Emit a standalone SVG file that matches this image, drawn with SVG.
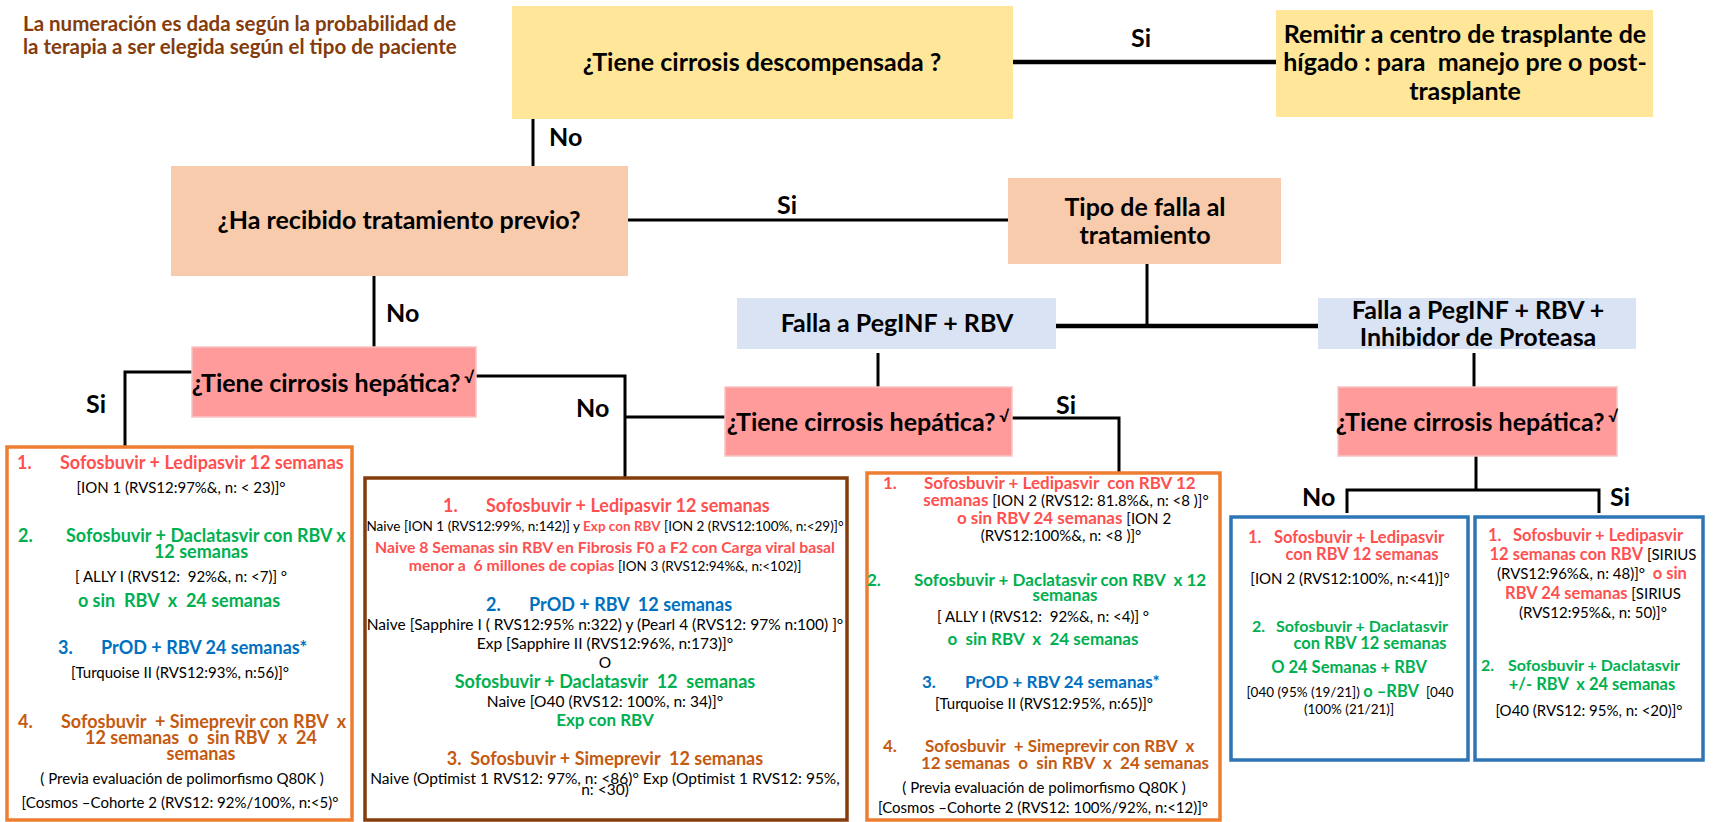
<svg xmlns="http://www.w3.org/2000/svg" width="1723" height="822" viewBox="0 0 1723 822" xml:space="preserve">
<style>
text{font-family:Lato,"Liberation Sans",sans-serif;white-space:pre;}
.n{font-size:25px;font-weight:bold;fill:#000;text-anchor:middle;}
.lb{font-size:25px;font-weight:bold;fill:#000;}
.note{font-size:20.5px;font-weight:bold;fill:#843C0C;}
.yel{fill:#FFE699;}
.pch{fill:#F8CBAD;}
.blu{fill:#DAE3F3;}
.pnk{fill:#FF9B9B;stroke:#F9C4C4;stroke-width:1.5;}
.ob{fill:#fff;stroke:#ED7D31;stroke-width:3.5;}
.bb{fill:#fff;stroke:#843C0C;stroke-width:3.5;}
.lbx{fill:#fff;stroke:#2E75B6;stroke-width:3.5;}
.c{fill:none;stroke:#000;stroke-width:3;}
.ct{fill:none;stroke:#000;stroke-width:4.5;}
.t{font-size:18px;font-weight:bold;}
.t17{font-size:17px;}
.t16{font-size:16.5px;}
.t16s{font-size:16px;}
.tn{font-size:15.8px;}
.m{text-anchor:middle;}
.r{fill:#FF5050;}
.g{fill:#00B050;}
.b{fill:#0070C0;}
.o{fill:#C55A11;}
.k{font-size:15px;font-weight:normal;fill:#000;}
.k2{font-size:15.5px;font-weight:normal;fill:#000;}
.ks{font-size:13.5px;font-weight:normal;fill:#000;}
.sup{font-size:16px;}
</style>
<text class="note" x="23" y="31">La numeración es dada según la probabilidad de</text>
<text class="note" x="23" y="54">la terapia a ser elegida según el tipo de paciente</text>
<g id="connectors">
<path class="ct" d="M1013,62 H1276"/>
<path class="c" d="M533,119 V166"/>
<path class="c" d="M628,220 H1008"/>
<path class="c" d="M374,276 V347"/>
<path class="c" d="M1147,264 V326"/>
<path class="ct" d="M1056,326 H1318"/>
<path class="c" d="M878,353 V387"/>
<path class="c" d="M1474,353 V387"/>
<path class="c" d="M192,372 H125 V447"/>
<path class="c" d="M476,376 H625 V478 M625,417 H725"/>
<path class="c" d="M1012,418 H1119 V473"/>
<path class="c" d="M1476,456 V490 M1347,513 V490 H1599 V513"/>
<text class="lb" x="1131" y="47">Si</text>
<text class="lb" x="549" y="146">No</text>
<text class="lb" x="777" y="214">Si</text>
<text class="lb" x="386" y="322">No</text>
<text class="lb" x="86" y="413">Si</text>
<text class="lb" x="576" y="417">No</text>
<text class="lb" x="1056" y="414">Si</text>
<text class="lb" x="1302" y="506">No</text>
<text class="lb" x="1610" y="506">Si</text>
</g>
<g id="n-descompensada">
<rect class="yel" x="512" y="6" width="501" height="113"/>
<text class="n" x="762" y="71">¿Tiene cirrosis descompensada ?</text>
</g>
<g id="n-remitir">
<rect class="yel" x="1276" y="10" width="377" height="107"/>
<text class="n" x="1465" y="43">Remitir a centro de trasplante de</text>
<text class="n" x="1465" y="71">hígado : para  manejo pre o post-</text>
<text class="n" x="1465" y="100">trasplante</text>
</g>
<g id="n-previo">
<rect class="pch" x="171" y="166" width="457" height="110"/>
<text class="n" x="399" y="229">¿Ha recibido tratamiento previo?</text>
</g>
<g id="n-tipofalla">
<rect class="pch" x="1008" y="178" width="273" height="86"/>
<text class="n" x="1145" y="216">Tipo de falla al</text>
<text class="n" x="1145" y="244">tratamiento</text>
</g>
<g id="n-falla1">
<rect class="blu" x="737" y="298" width="319" height="51"/>
<text class="n" x="897" y="332">Falla a PegINF + RBV</text>
</g>
<g id="n-falla2">
<rect class="blu" x="1318" y="298" width="318" height="51"/>
<text class="n" x="1478" y="319">Falla a PegINF + RBV +</text>
<text class="n" x="1478" y="346">Inhibidor de Proteasa</text>
</g>
<g id="n-cirrosis1">
<rect class="pnk" x="192" y="347" width="284" height="70"/>
<text class="n" x="333" y="392">¿Tiene cirrosis hepática?<tspan class="sup" dy="-9"> √</tspan></text>
</g>
<g id="n-cirrosis2">
<rect class="pnk" x="725" y="387" width="287" height="69"/>
<text class="n" x="868" y="431">¿Tiene cirrosis hepática?<tspan class="sup" dy="-9"> √</tspan></text>
</g>
<g id="n-cirrosis3">
<rect class="pnk" x="1338" y="387" width="279" height="69"/>
<text class="n" x="1477" y="431">¿Tiene cirrosis hepática?<tspan class="sup" dy="-9"> √</tspan></text>
</g>
<g id="n-tx-naive-cirrosis">
<rect class="ob" x="7" y="447" width="345" height="373"/>
<text class="t r" x="17" y="469">1.</text><text class="t r" x="60" y="469">Sofosbuvir + Ledipasvir 12 semanas</text>
<text class="k m" x="181" y="493">[ION 1 (RVS12:97%&amp;, n: &lt; 23)]°</text>
<text class="t g" x="18" y="542">2.</text><text class="t g" x="66" y="542">Sofosbuvir + Daclatasvir con RBV x</text>
<text class="t g m" x="201" y="558">12 semanas</text>
<text class="k m" x="181" y="582">[ ALLY I (RVS12:  92%&amp;, n: &lt;7)] °</text>
<text class="t g m" x="179" y="607">o sin  RBV  x  24 semanas</text>
<text class="t b" x="58" y="654">3.</text><text class="t b" x="101" y="654">PrOD + RBV 24 semanas*</text>
<text class="k m" x="180" y="678">[Turquoise II (RVS12:93%, n:56)]°</text>
<text class="t o" x="18" y="728">4.</text><text class="t o" x="61" y="728">Sofosbuvir  + Simeprevir con RBV  x</text>
<text class="t o m" x="201" y="744">12 semanas  o  sin RBV  x  24</text>
<text class="t o m" x="201" y="760">semanas</text>
<text class="k m" x="182" y="784">( Previa evaluación de polimorfismo Q80K )</text>
<text class="k m" x="180" y="808">[Cosmos –Cohorte 2 (RVS12: 92%/100%, n:&lt;5)°</text>
</g>
<g id="n-tx-naive-nocirrosis">
<rect class="bb" x="365" y="478" width="482" height="342"/>
<text class="t r" x="443" y="512">1.</text><text class="t r" x="486" y="512">Sofosbuvir + Ledipasvir 12 semanas</text>
<text class="ks m" x="605" y="531">Naive [ION 1 (RVS12:99%, n:142)] y <tspan class="r" font-weight="bold">Exp con RBV</tspan> [ION 2 (RVS12:100%, n:&lt;29)]°</text>
<text class="t tn r m" x="605" y="553">Naive 8 Semanas sin RBV en Fibrosis F0 a F2 con Carga viral basal</text>
<text class="t tn r m" x="605" y="571">menor a  6 millones de copias<tspan class="ks"> [ION 3 (RVS12:94%&amp;, n:&lt;102)]</tspan></text>
<text class="t b" x="486" y="611">2.</text><text class="t b" x="529" y="611">PrOD + RBV  12 semanas</text>
<text class="k2 m" x="605" y="630">Naive [Sapphire I ( RVS12:95% n:322) y (Pearl 4 (RVS12: 97% n:100) ]°</text>
<text class="k2 m" x="605" y="649">Exp [Sapphire II (RVS12:96%, n:173)]°</text>
<text class="k2 m" x="605" y="668">O</text>
<text class="t g m" x="605" y="688">Sofosbuvir + Daclatasvir  12  semanas</text>
<text class="k2 m" x="605" y="707">Naive [O40 (RVS12: 100%, n: 34)]°</text>
<text class="t t17 g m" x="605" y="726">Exp con RBV</text>
<text class="t o m" x="605" y="765">3.  Sofosbuvir + Simeprevir  12 semanas</text>
<text class="k2 m" x="605" y="784">Naive (Optimist 1 RVS12: 97%, n: &lt;86)° Exp (Optimist 1 RVS12: 95%,</text>
<text class="k2 m" x="605" y="795">n: &lt;30)</text>
</g>
<g id="n-tx-exp-cirrosis">
<rect class="ob" x="867" y="473" width="353" height="347"/>
<text class="t t17 r" x="883" y="489">1.</text><text class="t t17 r" x="924" y="489">Sofosbuvir + Ledipasvir  con RBV 12</text>
<text class="t t17 r m" x="1066" y="506">semanas<tspan class="k"> [ION 2 (RVS12: 81.8%&amp;, n: &lt;8 )]°</tspan></text>
<text class="t t17 r m" x="1064" y="524">o sin RBV 24 semanas<tspan class="k"> [ION 2</tspan></text>
<text class="k m" x="1061" y="541">(RVS12:100%&amp;, n: &lt;8 )]°</text>
<text class="t t17 g" x="867" y="586">2.</text><text class="t t17 g" x="914" y="586">Sofosbuvir + Daclatasvir con RBV  x 12</text>
<text class="t t17 g m" x="1065" y="601">semanas</text>
<text class="k m" x="1043" y="622">[ ALLY I (RVS12:  92%&amp;, n: &lt;4)] °</text>
<text class="t t17 g m" x="1043" y="645">o  sin RBV  x  24 semanas</text>
<text class="t t17 b" x="922" y="688">3.</text><text class="t t17 b" x="965" y="688">PrOD + RBV 24 semanas*</text>
<text class="k m" x="1044" y="709">[Turquoise II (RVS12:95%, n:65)]°</text>
<text class="t t17 o" x="883" y="752">4.</text><text class="t t17 o" x="925" y="752">Sofosbuvir  + Simeprevir con RBV  x</text>
<text class="t t17 o m" x="1065" y="769">12 semanas  o  sin RBV  x  24 semanas</text>
<text class="k m" x="1044" y="793">( Previa evaluación de polimorfismo Q80K )</text>
<text class="k m" x="1043" y="813">[Cosmos –Cohorte 2 (RVS12: 100%/92%, n:&lt;12)]°</text>
</g>
<g id="n-tx-ip-nocirrosis">
<rect class="lbx" x="1231" y="517" width="237" height="243"/>
<text class="t t16 r" x="1248" y="543">1.</text><text class="t t16 r" x="1274" y="543">Sofosbuvir + Ledipasvir</text>
<text class="t t16 r m" x="1362" y="560">con RBV 12 semanas</text>
<text class="k m" x="1350" y="584">[ION 2 (RVS12:100%, n:&lt;41)]°</text>
<text class="t t16s g" x="1252" y="632">2.</text><text class="t t16s g" x="1276" y="632">Sofosbuvir + Daclatasvir</text>
<text class="t t16 g m" x="1370" y="649">con RBV 12 semanas</text>
<text class="t t16 g m" x="1349" y="673">O 24 Semanas + RBV</text>
<text class="t t16 g m" x="1350" y="697"><tspan class="ks">[040 (95% (19/21]) </tspan>o –RBV<tspan class="ks">  [040</tspan></text>
<text class="ks m" x="1349" y="714">(100% (21/21)]</text>
</g>
<g id="n-tx-ip-cirrosis">
<rect class="lbx" x="1475" y="517" width="228" height="243"/>
<text class="t t16 r" x="1488" y="541">1.</text><text class="t t16 r" x="1513" y="541">Sofosbuvir + Ledipasvir</text>
<text class="t t16 r m" x="1593" y="560">12 semanas con RBV<tspan class="k"> [SIRIUS</tspan></text>
<text class="t t16 r m" x="1592" y="579"><tspan class="k">(RVS12:96%&amp;, n: 48)]°  </tspan>o sin</text>
<text class="t t16 r m" x="1593" y="599">RBV 24 semanas<tspan class="k"> [SIRIUS</tspan></text>
<text class="k m" x="1593" y="618">(RVS12:95%&amp;, n: 50)]°</text>
<text class="t t16s g" x="1481" y="671">2.</text><text class="t t16s g" x="1508" y="671">Sofosbuvir + Daclatasvir</text>
<text class="t t16 g m" x="1592" y="690">+/- RBV  x 24 semanas</text>
<text class="k m" x="1589" y="716">[O40 (RVS12: 95%, n: &lt;20)]°</text>
</g>
</svg>
